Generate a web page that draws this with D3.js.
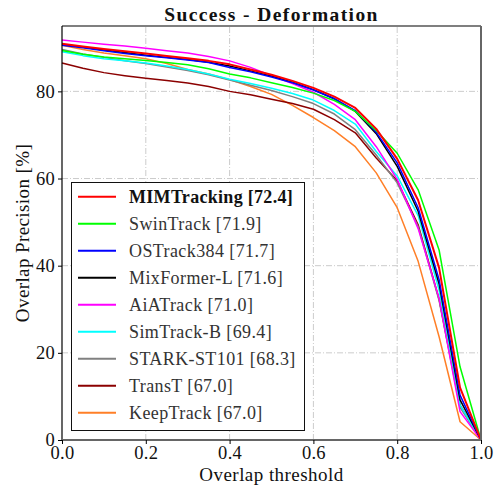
<!DOCTYPE html>
<html>
<head>
<meta charset="utf-8">
<script src="https://cdn.jsdelivr.net/npm/d3@7"></script>
<style>
  body { margin: 0; background: #fff; }
</style>
</head>
<body>
<div id="chart"></div>
<script>
const thresholds = [0, 0.05, 0.1, 0.15, 0.2, 0.25, 0.3, 0.35, 0.4, 0.45, 0.5,
                    0.55, 0.6, 0.65, 0.7, 0.75, 0.8, 0.85, 0.9, 0.95, 1.0];

const trackers = ["MIMTracking", "SwinTrack", "OSTrack384", "MixFormer-L", "AiATrack",
                  "SimTrack-B", "STARK-ST101", "TransT", "KeepTrack"];
const scores   = ["72.4", "71.9", "71.7", "71.6", "71.0", "69.4", "68.3", "67.0", "67.0"];
const colors   = ["#ff0000", "#00ff00", "#0000ff", "#000000", "#ff00ff",
                  "#00ffff", "#808080", "#8b0000", "#ff7f27"];

const mimtracking = [90.9, 90.3, 89.7, 89.2, 88.7, 88.1, 87.6, 87.0, 86.2, 85.0, 83.8,
                     82.4, 80.8, 78.8, 76.2, 71.4, 64.5, 55.0, 39.5, 12.0, 0];
const swintrack   = [89.4, 88.5, 87.9, 87.5, 87.1, 86.6, 86.1, 85.2, 84.0, 83.1, 82.0,
                     80.9, 79.6, 77.9, 75.4, 71.0, 65.8, 57.4, 43.6, 16.8, 0];
const ostrack384  = [90.6, 90.0, 89.3, 88.7, 88.2, 87.7, 87.2, 86.6, 85.5, 84.5, 83.3,
                     82.0, 80.3, 78.3, 75.6, 70.6, 63.6, 53.3, 36.8, 10.3, 0];
const mixformerL  = [90.8, 90.1, 89.5, 88.9, 88.3, 87.8, 87.3, 86.7, 85.8, 84.7, 83.5,
                     82.1, 80.4, 78.3, 75.4, 70.3, 62.8, 52.5, 35.8, 9.2, 0];
const aiatrack    = [91.8, 91.3, 90.8, 90.4, 89.9, 89.3, 88.8, 88.0, 87.0, 85.5, 83.6,
                     81.8, 79.8, 77.0, 73.5, 67.3, 59.8, 48.5, 32.5, 6.5, 0];
const simtrackB   = [89.1, 88.2, 87.5, 87.0, 86.5, 85.8, 85.0, 84.0, 82.8, 81.8, 80.7,
                     79.5, 78.0, 75.6, 72.5, 66.2, 60.6, 51.5, 34.4, 8.0, 0];
const starkST101  = [89.6, 88.6, 87.8, 87.0, 86.4, 85.6, 84.8, 83.8, 82.6, 81.4, 80.2,
                     78.8, 77.2, 74.8, 71.2, 65.4, 59.0, 49.0, 32.0, 7.5, 0];
const transt      = [86.5, 85.3, 84.3, 83.6, 83.0, 82.5, 81.9, 81.1, 80.0, 79.2, 78.2,
                     77.2, 75.9, 73.5, 70.5, 64.7, 59.5, 49.4, 32.3, 8.0, 0];
const keeptrack   = [90.6, 89.6, 88.8, 88.2, 87.5, 86.4, 85.0, 84.0, 82.7, 81.1, 79.3,
                     76.8, 74.0, 71.0, 67.3, 61.3, 53.3, 41.0, 23.7, 4.2, 0];

const curves = [mimtracking, swintrack, ostrack384, mixformerL, aiatrack,
                simtrackB, starkST101, transt, keeptrack];

const xTicks = [0, 0.2, 0.4, 0.6, 0.8, 1.0];
const yTicks = [0, 20, 40, 60, 80];

const FONT = "Liberation Serif";
const W = 496, H = 490;
const m = {left: 62, right: 15, top: 26, bottom: 50};

const svg = d3.select("#chart").append("svg")
  .attr("width", W).attr("height", H);

const x = d3.scaleLinear([0, 1], [m.left, W - m.right]);
const y = d3.scaleLinear([0, 95], [H - m.bottom, m.top]);

// grid
const grid = svg.append("g")
  .attr("stroke", "#cccccc").attr("stroke-width", 1)
  .attr("stroke-dasharray", "6,2,1,2");
grid.selectAll("line.gx").data(xTicks.slice(1, -1)).join("line")
  .attr("x1", d => x(d)).attr("x2", d => x(d))
  .attr("y1", y(0)).attr("y2", y(95));
grid.selectAll("line.gy").data(yTicks.slice(1)).join("line")
  .attr("x1", x(0)).attr("x2", x(1))
  .attr("y1", d => y(d)).attr("y2", d => y(d));

// curves, last in legend drawn first
const line = d3.line().x((d, i) => x(thresholds[i])).y(d => y(d));
const order = d3.range(trackers.length).reverse();
svg.append("g").attr("fill", "none")
  .selectAll("path").data(order).join("path")
    .attr("d", i => line(curves[i]))
    .attr("stroke", i => colors[i])
    .attr("stroke-width", i => i === 0 ? 2 : 1.5)
    .attr("stroke-linejoin", "round");

// frame
svg.append("line").attr("x1", x(0)).attr("x2", x(1)).attr("y1", y(95)).attr("y2", y(95))
  .attr("stroke", "#000").attr("stroke-width", 1.2);
svg.append("line").attr("x1", x(0)).attr("x2", x(0)).attr("y1", y(0)).attr("y2", y(95))
  .attr("stroke", "#000").attr("stroke-width", 1.2);
svg.append("line").attr("x1", x(1)).attr("x2", x(1)).attr("y1", y(0)).attr("y2", y(95))
  .attr("stroke", "#666").attr("stroke-width", 2);
svg.append("line").attr("x1", x(0)).attr("x2", x(1)).attr("y1", y(0)).attr("y2", y(0))
  .attr("stroke", "#666").attr("stroke-width", 2);

// axes
const xAxis = svg.append("g")
  .attr("transform", `translate(0 ${y(0)})`)
  .call(d3.axisBottom(x).tickValues(xTicks).tickFormat(d3.format(".1f")).tickSize(4).tickPadding(2));
const yAxis = svg.append("g")
  .attr("transform", `translate(${x(0)} 0)`)
  .call(d3.axisLeft(y).tickValues(yTicks).tickSize(4).tickPadding(3));
[xAxis, yAxis].forEach(a => {
  a.attr("font-family", FONT).attr("font-size", 18.5);
  a.select(".domain").remove();
  a.selectAll("text").attr("fill", "#111").attr("letter-spacing", 0.3);
});

// labels
svg.append("text").attr("x", (x(0) + x(1)) / 2).attr("y", 21)
  .attr("text-anchor", "middle").attr("font-size", 19.5).attr("font-weight", "bold")
  .attr("letter-spacing", 1.4)
  .attr("font-family", FONT).attr("fill", "#111")
  .text("Success - Deformation");
svg.append("text").attr("x", (x(0) + x(1)) / 2).attr("y", 481)
  .attr("text-anchor", "middle").attr("font-size", 19)
  .attr("letter-spacing", 0.45)
  .attr("font-family", FONT).attr("fill", "#111")
  .text("Overlap threshold");
svg.append("text")
  .attr("transform", `translate(29 ${(y(0) + y(95)) / 2}) rotate(-90)`)
  .attr("text-anchor", "middle").attr("font-size", 19)
  .attr("letter-spacing", 0.4)
  .attr("font-family", FONT).attr("fill", "#111")
  .text("Overlap Precision [%]");

// legend
const lg = svg.append("g");
lg.append("rect").attr("x", 71.5).attr("y", 182.5).attr("width", 233).attr("height", 248)
  .attr("fill", "#fff").attr("stroke", "#111").attr("stroke-width", 1);
const rows = lg.selectAll("g.row").data(trackers).join("g")
  .attr("transform", (d, i) => `translate(0 ${196.7 + 27 * i})`);
rows.append("line").attr("x1", 78).attr("x2", 116).attr("y1", 0).attr("y2", 0)
  .attr("stroke", (d, i) => colors[i]).attr("stroke-width", 2);
rows.append("text").attr("x", 129).attr("y", 0).attr("dy", "0.35em")
  .attr("font-size", 18)
  .attr("letter-spacing", (d, i) => i === 0 ? 0.3 : 0.4)
  .attr("font-family", FONT)
  .attr("font-weight", (d, i) => i === 0 ? "bold" : null)
  .attr("fill", (d, i) => i === 0 ? "#111" : "#333")
  .text((d, i) => `${d} [${scores[i]}]`);
</script>
</body>
</html>
